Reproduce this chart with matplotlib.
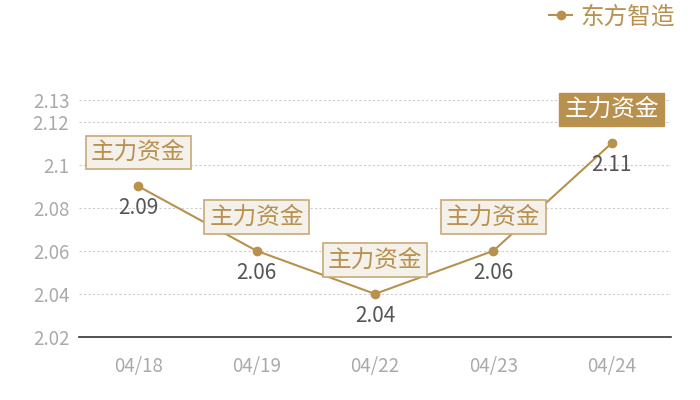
import matplotlib
matplotlib.use("Agg")
import matplotlib.pyplot as plt
from matplotlib.lines import Line2D

plt.rcParams['font.family'] = ['Noto Sans CJK SC', 'DejaVu Sans']

categories = ["04/18", "04/19", "04/22", "04/23", "04/24"]
values = [2.09, 2.06, 2.04, 2.06, 2.11]
series_name = "东方智造"
tag_text = "主力资金"
highlight_index = 4
yticks = [2.02, 2.04, 2.06, 2.08, 2.1, 2.12, 2.13]
ytick_labels = ["2.02", "2.04", "2.06", "2.08", "2.1", "2.12", "2.13"]

gold = "#b8914f"
fig = plt.figure(figsize=(7, 4), dpi=100)
ax = fig.add_axes([79/700, 1-337/400, 592/700, (337-100)/400])

x = list(range(len(categories)))
ax.plot(x, values, color=gold, lw=1.5, marker='o', ms=6, zorder=3)
ax.set_xlim(-0.5, len(categories)-0.5)
ax.set_ylim(2.02, 2.13)
ax.set_yticks(yticks)
ax.set_yticklabels(ytick_labels)
ax.set_xticks(x)
ax.set_xticklabels(categories)
ax.tick_params(axis='both', length=0, colors='#aaaaaa', labelsize=13.5)
ax.tick_params(axis='x', pad=14)
ax.tick_params(axis='y', pad=7)
for t in yticks[1:]:
    ax.axhline(t, color='#cccccc', lw=0.8, ls=(0, (2, 2)), zorder=0)
for s in ['top', 'right', 'left']:
    ax.spines[s].set_visible(False)
ax.spines['bottom'].set_color('#333333')
ax.spines['bottom'].set_linewidth(1.2)

for i, v in zip(x, values):
    ax.annotate(f"{v:.2f}", xy=(i, v), xytext=(0, -8), textcoords='offset points',
                ha='center', va='top', fontsize=15, color='#555555', zorder=4)
    if i == highlight_index:
        bb = dict(boxstyle='square,pad=0.22', fc=gold, ec=gold, lw=1)
        tc = 'white'
    else:
        bb = dict(boxstyle='square,pad=0.22', fc='#f4f0ea', ec='#c9a877', lw=1.2)
        tc = gold
    ax.annotate(tag_text, xy=(i, v), xytext=(0, 16), textcoords='offset points',
                ha='center', va='bottom', fontsize=17, color=tc, bbox=bb, zorder=5)

handle = Line2D([], [], color=gold, lw=1.5, marker='o', ms=6)
leg = fig.legend([handle], [series_name], loc='upper right', bbox_to_anchor=(0.995, 1.04),
                 frameon=False, fontsize=17, handlelength=1.0, handletextpad=0.35)
for t in leg.get_texts():
    t.set_color(gold)

fig.savefig("out.png", dpi=100)
